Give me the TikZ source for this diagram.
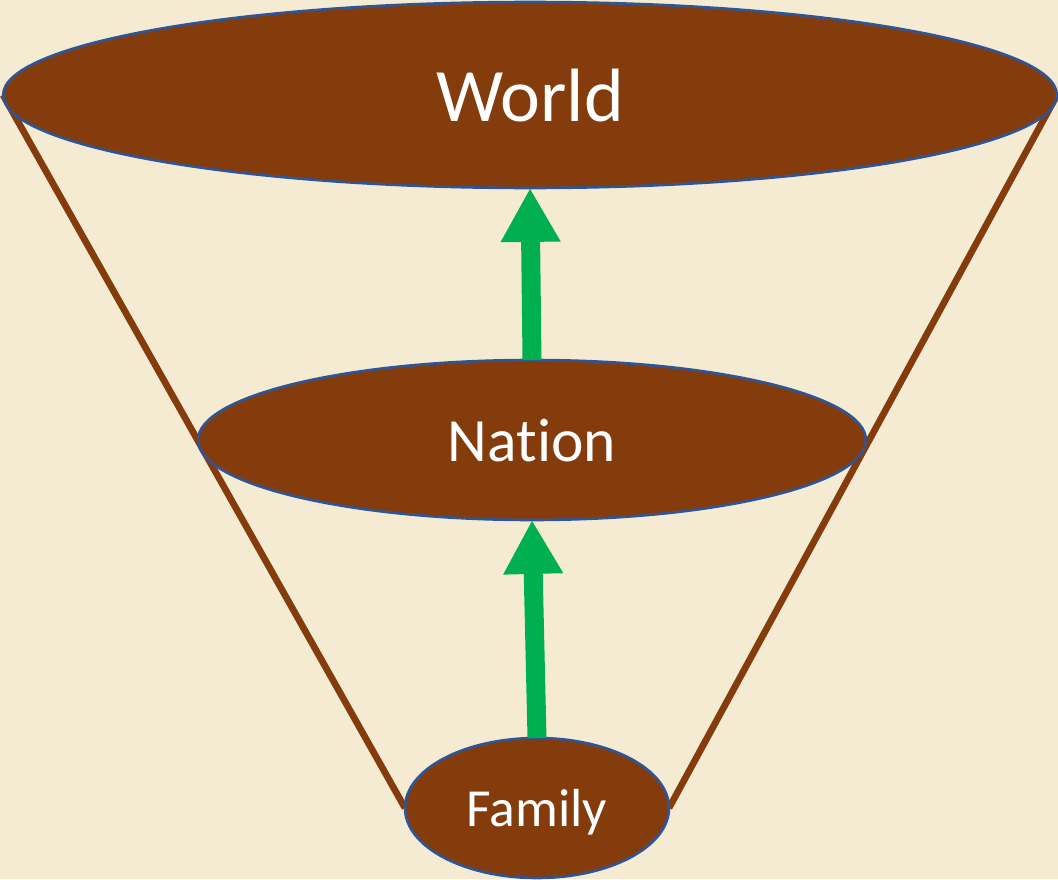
\documentclass[tikz,border=0pt]{standalone}
\usepackage{fontspec}
\setmainfont{Carlito}[Ligatures=NoCommon]
\usetikzlibrary{arrows.meta,shapes.geometric}

\definecolor{paper}{RGB}{245,235,210}
\definecolor{soil}{RGB}{132,60,12}
\definecolor{rim}{RGB}{47,85,151}
\definecolor{leafgreen}{RGB}{0,176,80}

\begin{document}
\begin{tikzpicture}[
  x=0.02cm, y=-0.02cm,
  ring/.style={ellipse, draw=rim, fill=soil, line width=1.5pt, inner sep=0pt, outer sep=0pt,
    text=white, text depth=0pt},
  funnel/.style={soil, line width=3.8pt},
  upward/.style={leafgreen, line width=10.8pt, -{Triangle[length=30.7pt, width=31.9pt]}}
]
  % canvas is 1058 x 879 px, y grows downward
  \fill[paper] (0,0) rectangle (1058,879);
  \useasboundingbox (0,0) rectangle (1058,879);

  \coordinate (worldW) at (3,95);
  \coordinate (worldE) at (1057,95);
  \coordinate (familyW) at (405,808);
  \coordinate (familyE) at (669,808);
  \draw[funnel] (worldW) -- (familyW);
  \draw[funnel] (worldE) -- (familyE);

  \node[ring, minimum width=1054*0.569pt, minimum height=186*0.569pt,
    font=\fontsize{43}{50}\selectfont] (world) at (530,95) {World};
  \node[ring, minimum width=668*0.569pt, minimum height=160*0.569pt,
    font=\fontsize{35}{40}\selectfont] (nation) at (532,440) {Nat\kern0pt ion};
  \node[ring, minimum width=264*0.569pt, minimum height=140*0.569pt,
    font=\fontsize{30.5}{34}\selectfont] (family) at (537,808) {Family};

  \draw[upward] (family.north) -- (nation.south);
  \draw[upward] (nation.north) -- (world.south);
\end{tikzpicture}
\end{document}
